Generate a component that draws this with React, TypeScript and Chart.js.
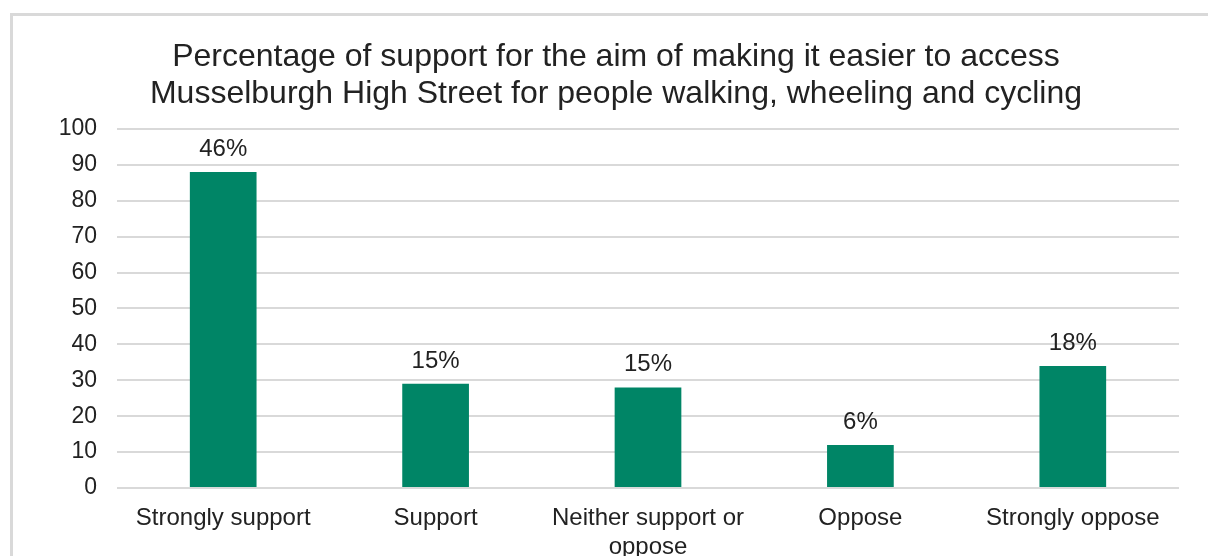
import React, { useEffect, useRef } from "react";
import { Chart, registerables } from "chart.js";

Chart.register(...registerables);

// Survey responses (number of respondents per answer)
const categories: (string | string[])[] = [
  "Strongly support",
  "Support",
  ["Neither support or", "oppose"],
  "Oppose",
  "Strongly oppose",
];
const responses: number[] = [88, 29, 28, 12, 34];

const titleLines: string[] = [
  "Percentage of support for the aim of making it easier to access",
  "Musselburgh High Street for people walking, wheeling and cycling",
];

const yTickMin = 0;
const yTickMax = 100;
const yTickStep = 10;

const FONT = "'Liberation Sans', Arial, sans-serif";
const BAR_COLOR = "#008566";
const GRID_COLOR = "#d9d9d9";
const TEXT_COLOR = "#222222";

const total = responses.reduce((a, b) => a + b, 0);
const percentLabels = responses.map((v) => `${Math.round((v / total) * 100)}%`);

// Writes the share of respondents above each bar
const percentLabelPlugin = {
  id: "percentLabels",
  afterDatasetsDraw(chart: any) {
    const { ctx } = chart;
    const meta = chart.getDatasetMeta(0);
    ctx.save();
    ctx.font = `24px ${FONT}`;
    ctx.fillStyle = TEXT_COLOR;
    ctx.textAlign = "center";
    ctx.textBaseline = "alphabetic";
    meta.data.forEach((bar: any, i: number) => {
      ctx.fillText(percentLabels[i], bar.x, bar.y - 16);
    });
    ctx.restore();
  },
};

export default function App() {
  const canvasRef = useRef<HTMLCanvasElement | null>(null);

  useEffect(() => {
    if (!canvasRef.current) return;
    const chart = new Chart(canvasRef.current, {
      type: "bar",
      data: {
        labels: categories,
        datasets: [
          {
            data: responses,
            backgroundColor: BAR_COLOR,
            borderWidth: 0,
            categoryPercentage: 1,
            barPercentage: 0.314,
          },
        ],
      },
      options: {
        animation: false,
        responsive: false,
        maintainAspectRatio: false,
        layout: { padding: { left: 40, right: 29, top: 0, bottom: 0 } },
        plugins: {
          legend: { display: false },
          tooltip: { enabled: false },
          title: {
            display: true,
            text: titleLines,
            color: TEXT_COLOR,
            font: { family: FONT, size: 32, weight: "normal", lineHeight: 1.17 },
            padding: { top: 22, bottom: 16 },
          },
        },
        scales: {
          x: {
            grid: { display: false, drawTicks: false },
            border: { display: false },
            ticks: {
              color: TEXT_COLOR,
              font: { family: FONT, size: 24, lineHeight: 1.2 },
              padding: 16,
              maxRotation: 0,
              autoSkip: false,
            },
            afterFit: (scale: any) => {
              scale.height = 68;
            },
          },
          y: {
            min: yTickMin,
            max: yTickMax,
            grid: { color: GRID_COLOR, lineWidth: 2, drawTicks: false },
            border: { display: false },
            ticks: {
              stepSize: yTickStep,
              color: TEXT_COLOR,
              font: { family: FONT, size: 23 },
              padding: 20,
            },
            afterFit: (scale: any) => {
              scale.width = 64;
            },
          },
        },
      },
      plugins: [percentLabelPlugin],
    });
    return () => chart.destroy();
  }, []);

  return (
    <div
      style={{
        position: "fixed",
        left: 0,
        top: 0,
        width: 1208,
        height: 556,
        overflow: "hidden",
        background: "#ffffff",
      }}
    >
      <div
        style={{
          position: "absolute",
          left: 10,
          top: 13,
          width: 1300,
          height: 700,
          borderTop: `3px solid ${GRID_COLOR}`,
          borderLeft: `3px solid ${GRID_COLOR}`,
          boxSizing: "border-box",
        }}
      />
      <canvas
        ref={canvasRef}
        width={1195}
        height={540}
        style={{ position: "absolute", left: 13, top: 16, width: 1195, height: 540 }}
      />
    </div>
  );
}
